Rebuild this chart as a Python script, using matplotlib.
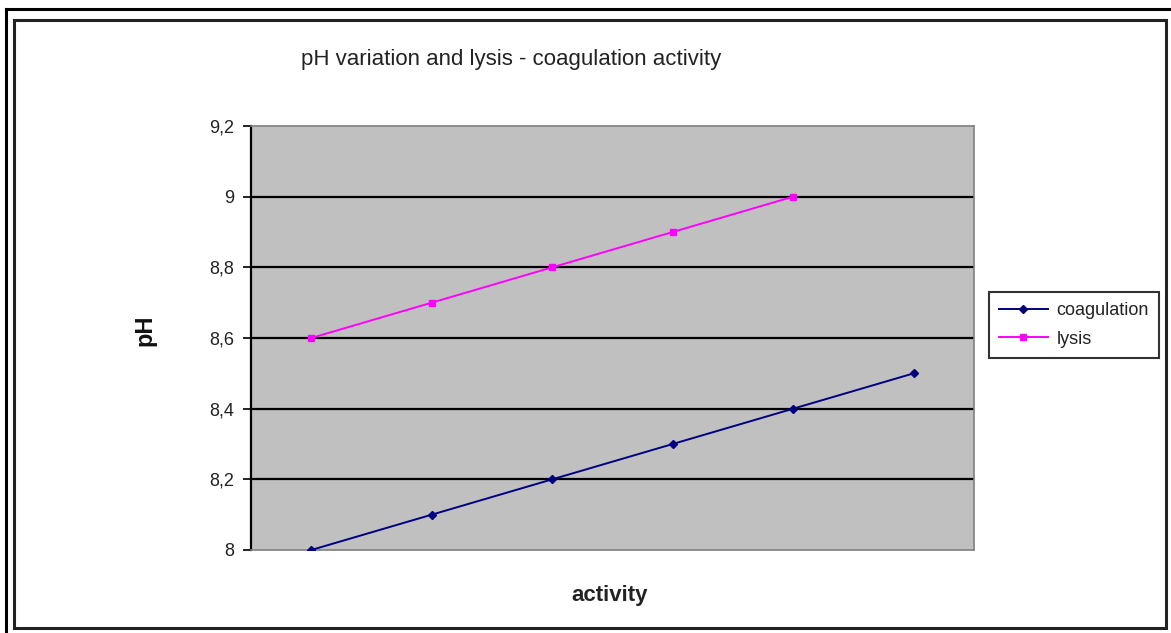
import matplotlib
matplotlib.use("Agg")
import matplotlib.pyplot as plt
from matplotlib.patches import Rectangle
from matplotlib.lines import Line2D

plt.rcParams['font.family'] = ['Liberation Sans', 'DejaVu Sans']

categories = [1, 2, 3, 4, 5, 6]
coagulation = [8.0, 8.1, 8.2, 8.3, 8.4, 8.5]
lysis = [8.6, 8.7, 8.8, 8.9, 9.0]
yticks = [8.0, 8.2, 8.4, 8.6, 8.8, 9.0, 9.2]
ytick_labels = ["8", "8,2", "8,4", "8,6", "8,8", "9", "9,2"]

W, H = 1171, 633
fig = plt.figure(figsize=(W / 100, H / 100), dpi=100)
fig.patch.set_facecolor('white')

# frames
fig.add_artist(Line2D([6 / W, 1.0], [1 - 9 / H, 1 - 9 / H], color='black', lw=2.2, transform=fig.transFigure))
fig.add_artist(Line2D([6 / W, 6 / W], [0, 1 - 9 / H], color='black', lw=2.2, transform=fig.transFigure))
fig.add_artist(Rectangle((14 / W, 1 - 628 / H), (1166 - 14) / W, (628 - 20) / H, fill=False,
                         edgecolor='#222222', lw=2.2, transform=fig.transFigure))

ax = fig.add_axes([251 / W, 1 - 550 / H, (974 - 251) / W, (550 - 126) / H])
ax.set_facecolor('#C0C0C0')

xpos = list(range(len(categories)))
ax.plot(xpos, coagulation, color='#000080', marker='D', markersize=4.5, lw=1.4, label='coagulation', zorder=3)
ax.plot(xpos[:len(lysis)], lysis, color='#FF00FF', marker='s', markersize=4, lw=1.4, label='lysis', zorder=3)

ax.set_xlim(-0.5, len(categories) - 0.5)
ax.set_ylim(8.0, 9.2)
ax.set_yticks(yticks)
ax.set_yticklabels(ytick_labels, fontsize=13)
ax.set_xticks([])
for y in yticks[1:-1]:
    ax.axhline(y, color='black', lw=1.6, zorder=1)

for s in ['top', 'right', 'bottom']:
    ax.spines[s].set_color('#808080')
    ax.spines[s].set_linewidth(1.2)
ax.spines['left'].set_color('black')
ax.spines['left'].set_linewidth(1.6)
ax.tick_params(axis='y', direction='out', length=6, width=1.4, pad=6, colors='#222222')

fig.text(511 / W, 1 - 60 / H, 'pH variation and lysis - coagulation activity', ha='center', va='center',
         fontsize=16, color='#222222')
fig.text(610 / W, 1 - 596 / H, 'activity', ha='center', va='center', fontsize=16, fontweight='bold',
         color='#222222')
fig.text(145 / W, 1 - 330 / H, 'pH', ha='center', va='center', fontsize=17, fontweight='bold', rotation=90,
         color='#111111')

leg = fig.legend(loc='upper left', bbox_to_anchor=(989 / W, 1 - 292 / H), fontsize=13,
                 frameon=True, fancybox=False, edgecolor='black', handlelength=2.7,
                 borderpad=0.55, labelspacing=0.65, handletextpad=0.5, borderaxespad=0)
leg.get_frame().set_linewidth(1.5)
for t in leg.get_texts():
    t.set_color('#222222')

fig.savefig('out.png', dpi=100, facecolor='white')
